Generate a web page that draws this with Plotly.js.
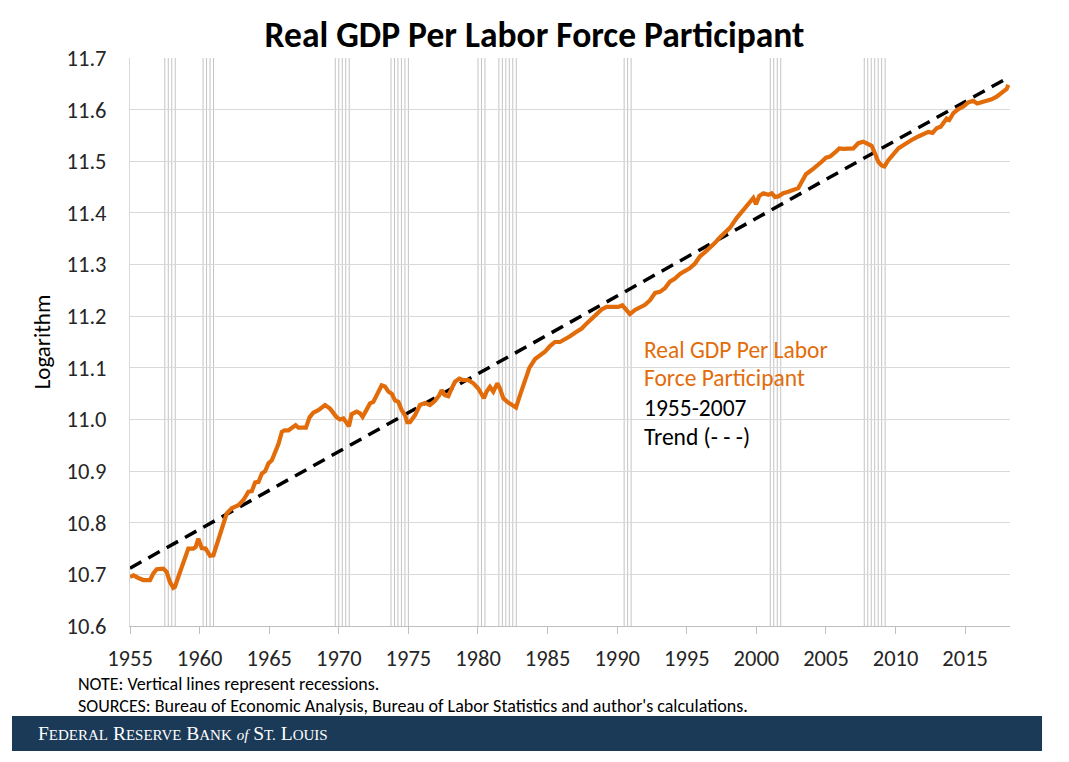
<!DOCTYPE html>
<html>
<head>
<meta charset="utf-8">
<script src="https://cdn.plot.ly/plotly-3.0.1.min.js"></script>
<style>
  html, body { margin: 0; padding: 0; background: #ffffff; }
  #chart { width: 1069px; height: 762px; }
</style>
</head>
<body>
<div id="chart"></div>
<script>
// ---- Data ----
const years = [
  1955.0, 1955.25, 1955.6, 1955.96, 1956.44, 1956.68, 1956.92, 1957.4, 1957.63, 1957.87,
  1958.11, 1958.23, 1958.47, 1958.83, 1959.19, 1959.55, 1959.72, 1959.91, 1960.15, 1960.43,
  1960.75, 1960.99, 1961.23, 1961.59, 1961.95, 1962.31, 1962.79, 1963.15, 1963.51, 1963.75,
  1963.99, 1964.23, 1964.47, 1964.71, 1964.95, 1965.19, 1965.43, 1965.67, 1965.91, 1966.1,
  1966.39, 1966.63, 1966.9, 1967.1, 1967.64, 1967.9, 1968.17, 1968.53, 1969.01, 1969.37,
  1969.61, 1969.85, 1970.09, 1970.33, 1970.52, 1970.73, 1970.92, 1971.28, 1971.52, 1971.71,
  1972.0, 1972.24, 1972.48, 1972.77, 1973.08, 1973.32, 1973.56, 1973.8, 1974.04, 1974.28,
  1974.52, 1974.76, 1974.92, 1975.12, 1975.47, 1975.83, 1976.19, 1976.55, 1976.91, 1977.22,
  1977.39, 1977.63, 1977.87, 1978.11, 1978.35, 1978.66, 1978.95, 1979.31, 1979.67, 1980.02,
  1980.26, 1980.43, 1980.62, 1980.86, 1981.1, 1981.39, 1981.58, 1981.82, 1982.11, 1982.42,
  1982.73, 1983.02, 1983.31, 1983.69, 1984.1, 1984.45, 1984.81, 1985.17, 1985.53, 1985.89,
  1986.25, 1986.61, 1986.97, 1987.45, 1987.81, 1988.17, 1988.53, 1988.88, 1989.24, 1989.72,
  1990.08, 1990.37, 1990.61, 1990.92, 1991.28, 1991.64, 1992.0, 1992.36, 1992.72, 1993.07,
  1993.43, 1993.79, 1994.15, 1994.51, 1994.87, 1995.23, 1995.59, 1995.95, 1996.31, 1996.67,
  1997.03, 1997.39, 1997.75, 1998.1, 1998.58, 1998.94, 1999.3, 1999.59, 1999.78, 1999.97,
  2000.21, 2000.5, 2000.86, 2001.1, 2001.34, 2001.58, 2001.93, 2002.29, 2002.65, 2003.01,
  2003.25, 2003.56, 2003.97, 2004.33, 2004.69, 2005.0, 2005.29, 2005.65, 2005.96, 2006.25,
  2006.6, 2006.96, 2007.32, 2007.68, 2008.04, 2008.28, 2008.52, 2008.76, 2009.0, 2009.2,
  2009.48, 2009.84, 2010.2, 2010.55, 2010.91, 2011.27, 2011.63, 2011.99, 2012.35, 2012.66,
  2012.95, 2013.24, 2013.48, 2013.67, 2013.86, 2014.15, 2014.51, 2014.87, 2015.22, 2015.58,
  2015.87, 2016.18, 2016.54, 2016.9, 2017.26, 2017.55, 2017.79, 2017.98, 2018.1
];
const gdpPerParticipant = [
  10.695, 10.698, 10.693, 10.689, 10.689, 10.702, 10.710, 10.711, 10.705, 10.685,
  10.674, 10.676, 10.695, 10.724, 10.750, 10.750, 10.753, 10.769, 10.751, 10.750,
  10.736, 10.737, 10.756, 10.789, 10.818, 10.828, 10.834, 10.844, 10.860, 10.861,
  10.878, 10.879, 10.895, 10.900, 10.915, 10.921, 10.937, 10.953, 10.976, 10.979,
  10.979, 10.983, 10.989, 10.984, 10.984, 11.004, 11.013, 11.018, 11.028, 11.021,
  11.013, 11.004, 11.000, 11.002, 10.995, 10.987, 11.010, 11.015, 11.012, 11.005,
  11.019, 11.031, 11.034, 11.050, 11.066, 11.064, 11.054, 11.050, 11.037, 11.034,
  11.018, 11.008, 10.995, 10.995, 11.008, 11.028, 11.032, 11.028, 11.036, 11.047,
  11.057, 11.047, 11.045, 11.060, 11.073, 11.079, 11.076, 11.076, 11.070, 11.060,
  11.047, 11.041, 11.054, 11.063, 11.054, 11.070, 11.060, 11.041, 11.034, 11.028,
  11.023, 11.047, 11.072, 11.100, 11.117, 11.125, 11.131, 11.142, 11.150, 11.150,
  11.155, 11.161, 11.168, 11.176, 11.186, 11.196, 11.205, 11.213, 11.218, 11.217,
  11.218, 11.221, 11.213, 11.204, 11.212, 11.217, 11.222, 11.231, 11.245, 11.247,
  11.254, 11.267, 11.273, 11.282, 11.288, 11.293, 11.302, 11.316, 11.324, 11.332,
  11.342, 11.353, 11.362, 11.371, 11.390, 11.401, 11.412, 11.422, 11.429, 11.417,
  11.433, 11.438, 11.435, 11.438, 11.431, 11.432, 11.438, 11.441, 11.444, 11.448,
  11.460, 11.475, 11.483, 11.490, 11.499, 11.507, 11.509, 11.517, 11.525, 11.524,
  11.525, 11.525, 11.535, 11.538, 11.533, 11.530, 11.515, 11.499, 11.492, 11.490,
  11.502, 11.515, 11.525, 11.531, 11.538, 11.543, 11.548, 11.553, 11.557, 11.555,
  11.564, 11.567, 11.577, 11.583, 11.580, 11.593, 11.601, 11.606, 11.614, 11.617,
  11.612, 11.614, 11.617, 11.620, 11.625, 11.632, 11.637, 11.640, 11.648
];
// 1955-2007 trend line (end points)
const trendYears = [1955.0, 2018.22];
const trendValues = [10.712, 11.664];
// Recession quarters (start of each quarter, NBER dating)
const recessionQuarters = [
  1957.5, 1957.75, 1958.0, 1958.25,
  1960.25, 1960.5, 1960.75, 1961.0,
  1969.75, 1970.0, 1970.25, 1970.5, 1970.75,
  1973.75, 1974.0, 1974.25, 1974.5, 1974.75, 1975.0,
  1980.0, 1980.25, 1980.5,
  1981.5, 1981.75, 1982.0, 1982.25, 1982.5, 1982.75,
  1990.5, 1990.75, 1991.0,
  2001.0, 2001.25, 2001.5, 2001.75,
  2007.75, 2008.0, 2008.25, 2008.5, 2008.75, 2009.0, 2009.25
];
const xTickYears = [1955, 1960, 1965, 1970, 1975, 1980, 1985, 1990, 1995, 2000, 2005, 2010, 2015];
const yTickValues = [10.6, 10.7, 10.8, 10.9, 11.0, 11.1, 11.2, 11.3, 11.4, 11.5, 11.6, 11.7];

const chartTitle = 'Real GDP Per Labor Force Participant';
const yTitle = 'Logarithm';
const labelLines = ['Real GDP Per Labor', 'Force Participant', '1955-2007', 'Trend (- - -)'];
const noteText = 'NOTE: Vertical lines represent recessions.';
const sourceText = "SOURCES: Bureau of Economic Analysis, Bureau of Labor Statistics and author's calculations.";
// banner words drawn as hand-made small capitals
const bannerWords = ['Federal', 'Reserve', 'Bank', 'of', 'St.', 'Louis'];

// ---- Styles ----
const FONT = 'Carlito, Calibri, Lato, "Open Sans", sans-serif';
const ORANGE = '#E36C0A';
const NAVY = '#1B3A57';

function smallCaps(word, small) {
  if (word === 'of') return '<i><span style="font-size:' + small + 'px">of</span></i>';
  const first = word[0];
  const rest = word.slice(1).toUpperCase();
  return first + '<span style="font-size:' + small + 'px">' + rest + '</span>';
}
const bannerText = bannerWords.map(w => smallCaps(w, 15)).join(' ');

const traces = [
  {
    x: trendYears, y: trendValues, type: 'scatter', mode: 'lines',
    line: { color: '#000000', width: 3.5, dash: '13px,8px' },
    hoverinfo: 'skip', showlegend: false
  },
  {
    x: years, y: gdpPerParticipant, type: 'scatter', mode: 'lines',
    line: { color: ORANGE, width: 4.2 },
    showlegend: false
  }
];

const shapes = recessionQuarters.map(q => ({
  type: 'line', xref: 'x', yref: 'paper', x0: q, x1: q, y0: 0, y1: 1,
  line: { color: '#c4c4c4', width: 1 }, layer: 'below'
}));
// footer banner
shapes.push({
  type: 'rect', xref: 'paper', yref: 'paper',
  x0: -0.1341, x1: 1.0364, y0: -0.2201, y1: -0.1585,
  fillcolor: NAVY, line: { width: 0 }, layer: 'above'
});

const labelColors = [ORANGE, ORANGE, '#000000', '#000000'];
const labelY = [0.486, 0.436, 0.384, 0.333];
const annotations = labelLines.map((t, i) => ({
  text: t, xref: 'paper', yref: 'paper', x: 0.5818, y: labelY[i],
  xanchor: 'left', yanchor: 'middle', showarrow: false,
  font: { family: FONT, size: 23.5, color: labelColors[i] }
}));
annotations.push({
  text: noteText, xref: 'paper', yref: 'paper', x: -0.0614, y: -0.1025,
  xanchor: 'left', yanchor: 'middle', showarrow: false,
  font: { family: FONT, size: 18, color: '#000000' }
});
annotations.push({
  text: sourceText, xref: 'paper', yref: 'paper', x: -0.0614, y: -0.1400,
  xanchor: 'left', yanchor: 'middle', showarrow: false,
  font: { family: FONT, size: 18, color: '#000000' }
});
annotations.push({
  text: bannerText, xref: 'paper', yref: 'paper', x: -0.1068, y: -0.1895,
  xanchor: 'left', yanchor: 'middle', showarrow: false,
  font: { family: '"Liberation Serif", "DejaVu Serif", serif', size: 19.5, color: '#ffffff' }
});

const layout = {
  width: 1069, height: 762,
  paper_bgcolor: '#ffffff', plot_bgcolor: '#ffffff',
  margin: { l: 130, r: 59, t: 58, b: 136, pad: 0 },
  title: {
    text: '<b>' + chartTitle + '</b>',
    x: 0.5, xanchor: 'center', y: 0.955, yanchor: 'middle',
    font: { family: FONT, size: 35.5, color: '#000000' }
  },
  xaxis: {
    range: [1955, 2018.22], tickmode: 'array', tickvals: xTickYears,
    ticktext: xTickYears.map(String),
    showgrid: false, zeroline: false,
    showline: true, linecolor: '#bfbfbf', linewidth: 1,
    ticks: 'outside', ticklen: 7, tickcolor: '#bfbfbf', tickwidth: 1,
    ticklabelstandoff: 5,
    tickfont: { family: FONT, size: 22.5, color: '#262626' },
    fixedrange: true
  },
  yaxis: {
    range: [10.6, 11.7], tickmode: 'array', tickvals: yTickValues,
    ticktext: yTickValues.map(v => v.toFixed(1)),
    showgrid: true, gridcolor: '#d9d9d9', gridwidth: 1,
    zeroline: false, showline: true, linecolor: '#d9d9d9', linewidth: 1,
    ticks: '', ticklabelstandoff: 18,
    tickfont: { family: FONT, size: 22.5, color: '#262626' },
    title: { text: yTitle, standoff: 9, font: { family: FONT, size: 23, color: '#000000' } },
    fixedrange: true
  },
  shapes: shapes,
  annotations: annotations,
  showlegend: false
};

Plotly.newPlot('chart', traces, layout, { displayModeBar: false, staticPlot: true });
</script>
</body>
</html>
